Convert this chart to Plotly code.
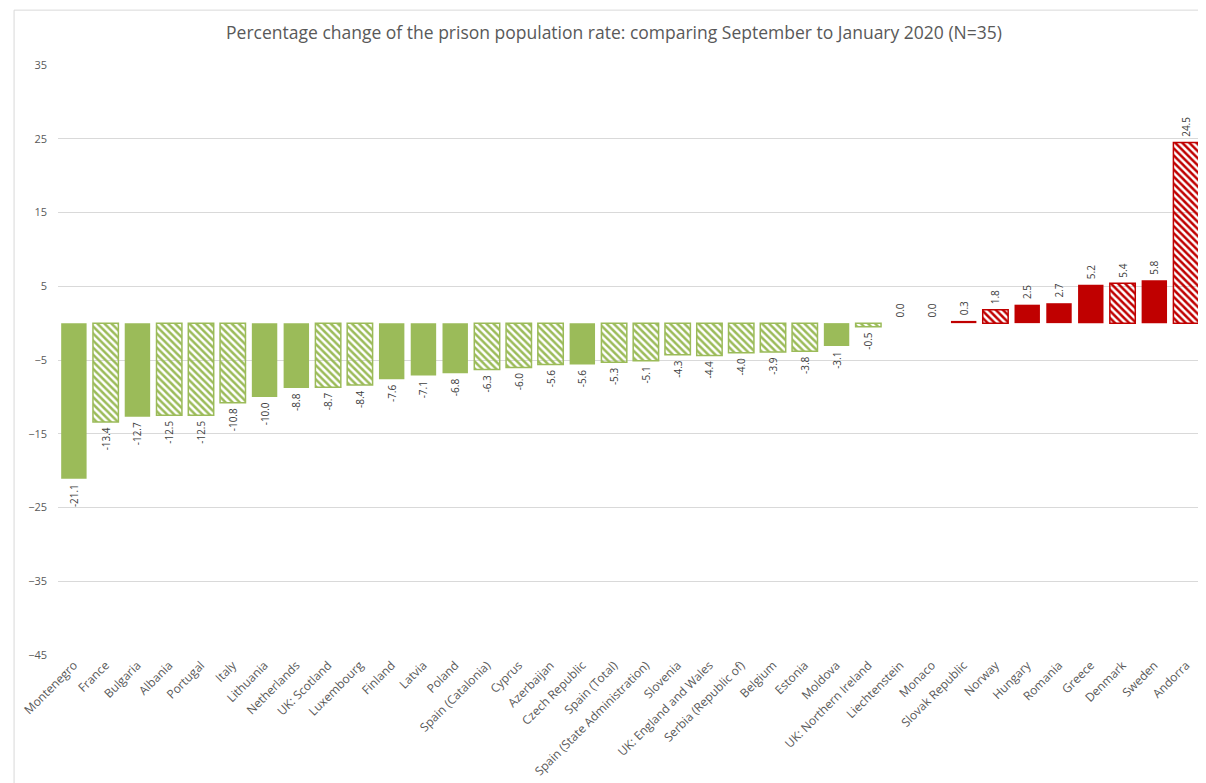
"""Percentage change of the prison population rate (Sept vs Jan 2020)"""

import plotly.graph_objects as go

countries = [
    "Montenegro", "France", "Bulgaria", "Albania", "Portugal", "Italy",
    "Lithuania", "Netherlands", "UK: Scotland", "Luxembourg", "Finland",
    "Latvia", "Poland", "Spain (Catalonia)", "Cyprus", "Azerbaijan",
    "Czech Republic", "Spain (Total)", "Spain (State Administration)",
    "Slovenia", "UK: England and Wales", "Serbia (Republic of)", "Belgium",
    "Estonia", "Moldova", "UK: Northern Ireland", "Liechtenstein", "Monaco",
    "Slovak Republic", "Norway", "Hungary", "Romania", "Greece", "Denmark",
    "Sweden", "Andorra",
]
values = [
    -21.1, -13.4, -12.7, -12.5, -12.5, -10.8, -10.0, -8.8, -8.7, -8.4, -7.6,
    -7.1, -6.8, -6.3, -6.0, -5.6, -5.6, -5.3, -5.1, -4.3, -4.4, -4.0, -3.9,
    -3.8, -3.1, -0.5, 0.0, 0.0, 0.3, 1.8, 2.5, 2.7, 5.2, 5.4, 5.8, 24.5,
]
# 1 = hatched bar, 0 = solid bar
hatched = [
    0, 1, 0, 1, 1, 1, 0, 0, 1, 1, 0, 0, 0, 1, 1, 1, 0, 1, 1, 1, 1, 1, 1,
    1, 0, 1, 0, 0, 0, 1, 0, 0, 0, 1, 0, 1,
]
y_ticks = [-45, -35, -25, -15, -5, 5, 15, 25, 35]

GREEN = "#9BBB59"
RED = "#C00000"
GREY = "#595959"
FONT = "'Open Sans', sans-serif"

colors = [GREEN if v < 0 else RED for v in values]

# nbsp padding keeps a small gap between bar end and its label
NB = "\u00a0"
labels = [f"{v:.1f}{NB}" if v < 0 else f"{NB}{v:.1f}" for v in values]

fig = go.Figure()
fig.add_trace(go.Bar(
    x=countries,
    y=values,
    marker=dict(
        color=colors,
        line=dict(color=colors, width=[1.5 if h else 0 for h in hatched]),
        pattern=dict(
            shape=["\\" if h else "" for h in hatched],
            fgcolor=colors,
            bgcolor="white",
            fillmode="replace",
            size=5,
            solidity=0.5,
        ),
    ),
    text=labels,
    textposition="outside",
    textangle=-90,
    textfont=dict(size=10, color="#404040", family=FONT),
    cliponaxis=False,
    width=0.8,
    hovertemplate="%{x}: %{y:.1f}<extra></extra>",
))

# outer chart border
fig.add_shape(type="rect", xref="paper", yref="paper",
              x0=-0.0384, x1=1.1, y0=-0.5, y1=1.093,
              line=dict(color="#d9d9d9", width=1), layer="below")

fig.update_layout(
    width=1206, height=783,
    title=dict(
        text="Percentage change of the prison population rate: comparing "
             "September to January 2020 (N=35)",
        x=0.5025, xref="container", xanchor="center",
        y=1 - 25 / 783, yanchor="middle",
        font=dict(size=17.5, color=GREY, family=FONT),
    ),
    font=dict(family=FONT, color=GREY),
    plot_bgcolor="white",
    paper_bgcolor="white",
    showlegend=False,
    margin=dict(l=48, r=12, t=57, b=135),
    xaxis=dict(
        tickangle=-45,
        tickfont=dict(size=12, color=GREY),
        showgrid=False,
        showline=False,
        ticks="",
    ),
    yaxis=dict(
        range=[-45, 35],
        tickvals=y_ticks,
        tickfont=dict(size=11, color=GREY),
        showgrid=True,
        gridcolor="#d9d9d9",
        gridwidth=1,
        zeroline=False,
        ticks="",
        ticklabelstandoff=10,
    ),
    bargap=0.2,
)

fig.write_html("out.html")
